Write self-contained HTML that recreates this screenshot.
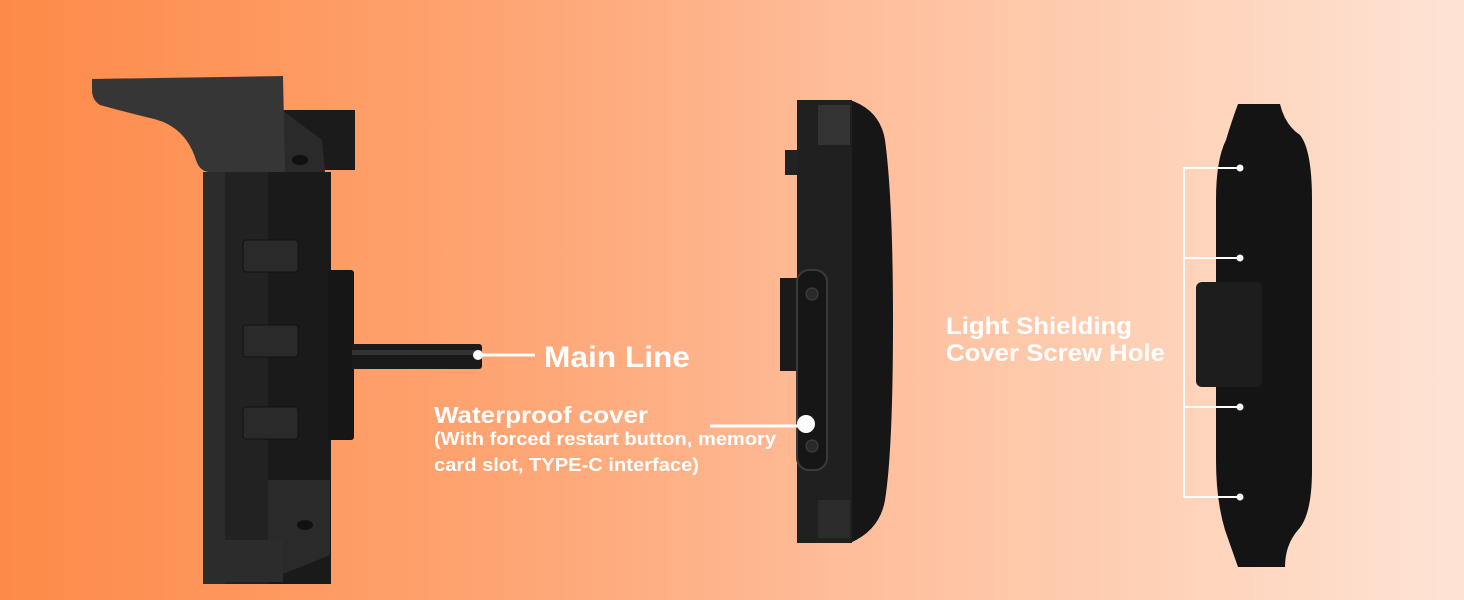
<!DOCTYPE html>
<html><head><style>
html,body{margin:0;padding:0}
body{width:1464px;height:600px;overflow:hidden;background:linear-gradient(90deg,#fd8a48 0%,#fea574 35%,#febf9d 60%,#fed2b8 80%,#fee3d5 100%);font-family:"Liberation Sans",sans-serif}
svg{position:absolute;left:0;top:0}
.t{fill:#fff;font-weight:bold;font-family:"Liberation Sans",sans-serif}
</style></head><body>
<svg width="1464" height="600" viewBox="0 0 1464 600">
<!-- left device -->
<rect x="282" y="110" width="73" height="60" fill="#1b1b1b"/>
<rect x="203" y="172" width="128" height="412" rx="4" fill="#222"/>
<rect x="203" y="172" width="22" height="412" fill="#2c2c2c"/>
<rect x="268" y="172" width="63" height="412" fill="#1a1a1a"/>
<polygon points="282,110 322,140 325,172 282,172" fill="#2a2a2a"/>
<polygon points="268,480 330,480 330,555 268,580" fill="#2a2a2a"/>
<rect x="203" y="540" width="80" height="42" fill="#2c2c2c"/>
<ellipse cx="300" cy="160" rx="8" ry="5" fill="#111"/>
<ellipse cx="305" cy="525" rx="8" ry="5" fill="#111"/>
<path d="M92,79 L283,76 L285,172 L210,172 Q200,172 196,160 Q185,125 150,118 Q125,112 100,105 Q92,100 92,90 Z" fill="#363636"/>
<rect x="243" y="240" width="55" height="32" rx="3" fill="#2a2a2a" stroke="#111"/>
<rect x="243" y="325" width="55" height="32" rx="3" fill="#2a2a2a" stroke="#111"/>
<rect x="243" y="407" width="55" height="32" rx="3" fill="#2a2a2a" stroke="#111"/>
<rect x="328" y="270" width="26" height="170" rx="3" fill="#161616"/>
<rect x="352" y="344" width="130" height="25" rx="3" fill="#1a1a1a"/>
<rect x="352" y="350" width="130" height="5" fill="#333"/>
<line x1="478" y1="355" x2="535" y2="355" stroke="#fff" stroke-width="3"/>
<circle cx="478" cy="355" r="5" fill="#fff"/>
<!-- middle device -->
<rect x="780" y="278" width="20" height="93" fill="#1a1a1a"/>
<rect x="785" y="150" width="12" height="25" fill="#222"/>
<path d="M797,100 L850,100 Q880,110 885,140 Q893,200 893,320 Q893,450 885,500 Q880,530 850,543 L797,543 Z" fill="#161616"/>
<rect x="797" y="100" width="55" height="443" fill="#202020"/>
<rect x="818" y="105" width="32" height="40" fill="#333"/>
<rect x="818" y="500" width="32" height="38" fill="#2c2c2c"/>
<rect x="797" y="270" width="30" height="200" rx="12" fill="#161616" stroke="#3a3a3a" stroke-width="2"/>
<circle cx="812" cy="294" r="6" fill="#2a2a2a" stroke="#444"/>
<circle cx="812" cy="446" r="6" fill="#2a2a2a" stroke="#444"/>
<line x1="710" y1="426" x2="805" y2="426" stroke="#fff" stroke-width="3"/>
<circle cx="806" cy="424" r="9" fill="#fff"/>
<!-- right device -->
<path d="M1238,104 L1280,104 Q1285,125 1300,135 Q1312,150 1312,200 L1312,470 Q1312,515 1298,530 Q1285,545 1285,567 L1238,567 Q1232,550 1225,530 Q1216,500 1216,460 L1216,200 Q1216,160 1226,140 Q1232,120 1238,104 Z" fill="#141414"/>
<rect x="1196" y="282" width="66" height="105" rx="6" fill="#1d1d1d"/>
<g stroke="#fff" stroke-width="2" fill="none">
<path d="M1240,168 H1184 V497 H1240"/>
<path d="M1184,258 H1240 M1184,407 H1240"/>
</g>
<g fill="#fff"><circle cx="1240" cy="168" r="3.5"/><circle cx="1240" cy="258" r="3.5"/><circle cx="1240" cy="407" r="3.5"/><circle cx="1240" cy="497" r="3.5"/></g>
<!-- text -->
<text class="t" x="544" y="367" font-size="30" textLength="146" lengthAdjust="spacingAndGlyphs">Main Line</text>
<text class="t" x="434" y="423" font-size="23" textLength="214" lengthAdjust="spacingAndGlyphs">Waterproof cover</text>
<text class="t" x="434" y="445" font-size="18" textLength="342" lengthAdjust="spacingAndGlyphs">(With forced restart button, memory</text>
<text class="t" x="434" y="471" font-size="18" textLength="265" lengthAdjust="spacingAndGlyphs">card slot, TYPE-C interface)</text>
<text class="t" x="946" y="334" font-size="24" textLength="186" lengthAdjust="spacingAndGlyphs">Light Shielding</text>
<text class="t" x="946" y="361" font-size="24" textLength="219" lengthAdjust="spacingAndGlyphs">Cover Screw Hole</text>
</svg>
</body></html>
